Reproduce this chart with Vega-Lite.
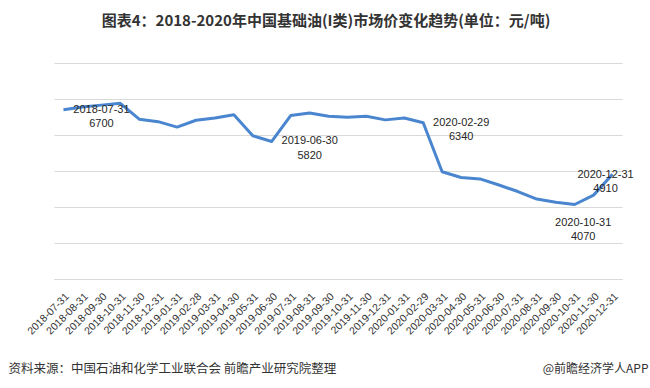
{
  "$schema": "https://vega.github.io/schema/vega-lite/v6.json",
  "width": 568,
  "height": 216,
  "autosize": {"type": "none"},
  "padding": {"left": 54, "top": 63, "right": 28, "bottom": 109},
  "background": "#ffffff",
  "title": {
    "text": "图表4：2018-2020年中国基础油(I类)市场价变化趋势(单位：元/吨)",
    "font": "Noto Sans CJK SC",
    "fontSize": 15,
    "fontWeight": "bold",
    "color": "#333333",
    "anchor": "middle",
    "dx": -12,
    "offset": 34
  },
  "config": {
    "view": {"stroke": null},
    "font": "Liberation Sans"
  },
  "data": {
    "values": [
      {"date": "2018-07-31", "price": 6700},
      {"date": "2018-08-31", "price": 6780},
      {"date": "2018-09-30", "price": 6830},
      {"date": "2018-10-31", "price": 6880},
      {"date": "2018-11-30", "price": 6440},
      {"date": "2018-12-31", "price": 6370},
      {"date": "2019-01-31", "price": 6220},
      {"date": "2019-02-28", "price": 6410},
      {"date": "2019-03-31", "price": 6470},
      {"date": "2019-04-30", "price": 6560},
      {"date": "2019-05-31", "price": 5980},
      {"date": "2019-06-30", "price": 5820},
      {"date": "2019-07-31", "price": 6540},
      {"date": "2019-08-31", "price": 6610},
      {"date": "2019-09-30", "price": 6520},
      {"date": "2019-10-31", "price": 6490},
      {"date": "2019-11-30", "price": 6520},
      {"date": "2019-12-31", "price": 6420},
      {"date": "2020-01-31", "price": 6470},
      {"date": "2020-02-29", "price": 6340},
      {"date": "2020-03-31", "price": 4980},
      {"date": "2020-04-30", "price": 4820},
      {"date": "2020-05-31", "price": 4780},
      {"date": "2020-06-30", "price": 4610},
      {"date": "2020-07-31", "price": 4430},
      {"date": "2020-08-31", "price": 4220},
      {"date": "2020-09-30", "price": 4130},
      {"date": "2020-10-31", "price": 4070},
      {"date": "2020-11-30", "price": 4330},
      {"date": "2020-12-31", "price": 4910}
    ]
  },
  "encoding": {
    "x": {
      "field": "date",
      "type": "ordinal",
      "sort": null,
      "scale": {"type": "point", "padding": 0.5},
      "axis": {
        "title": "资料来源：中国石油和化学工业联合会 前瞻产业研究院整理",
        "titleFont": "Noto Sans CJK SC",
        "titleFontSize": 12.5,
        "titleFontWeight": "normal",
        "titleColor": "#333333",
        "titleAnchor": "start",
        "titleAlign": "left",
        "titleBaseline": "middle",
        "titleX": -46,
        "titleY": 89,
        "labelAngle": -45,
        "labelFontSize": 10.5,
        "labelColor": "#333333",
        "labelPadding": 12,
        "ticks": false,
        "domain": true,
        "domainColor": "#d9d9d9",
        "grid": false
      }
    },
    "y": {
      "field": "price",
      "type": "quantitative",
      "scale": {"domain": [2000, 8000], "nice": false},
      "axis": {
        "values": [2000, 3000, 4000, 5000, 6000, 7000, 8000],
        "labels": false,
        "ticks": false,
        "domain": false,
        "grid": true,
        "gridColor": "#d9d9d9",
        "gridWidth": 1,
        "title": "@前瞻经济学人APP",
        "titleFont": "Noto Sans CJK SC",
        "titleFontSize": 12,
        "titleFontWeight": "normal",
        "titleColor": "#333333",
        "titleAngle": 0,
        "titleAlign": "right",
        "titleBaseline": "middle",
        "titleX": 594,
        "titleY": 305
      }
    }
  },
  "layer": [
    {
      "mark": {"type": "line", "color": "#4a86cf", "strokeWidth": 3, "strokeJoin": "round"}
    },
    {
      "transform": [
        {"filter": {"field": "date", "oneOf": ["2018-07-31", "2019-06-30", "2020-02-29"]}},
        {"calculate": "datum.date + '\\n' + datum.price", "as": "label"}
      ],
      "mark": {"type": "text", "font": "Liberation Sans", "fontSize": 11, "color": "#262626", "lineBreak": "\n", "lineHeight": 14.5, "dx": 38, "dy": 0, "baseline": "middle"},
      "encoding": {"text": {"field": "label"}}
    },
    {
      "transform": [
        {"filter": {"field": "date", "equal": "2020-10-31"}},
        {"calculate": "datum.date + '\\n' + datum.price", "as": "label"}
      ],
      "mark": {"type": "text", "font": "Liberation Sans", "fontSize": 11, "color": "#262626", "lineBreak": "\n", "lineHeight": 14, "dx": 8.5, "dy": 19, "baseline": "middle"},
      "encoding": {"text": {"field": "label"}}
    },
    {
      "transform": [
        {"filter": {"field": "date", "equal": "2020-12-31"}},
        {"calculate": "datum.date + '\\n' + datum.price", "as": "label"}
      ],
      "mark": {"type": "text", "font": "Liberation Sans", "fontSize": 11, "color": "#262626", "lineBreak": "\n", "lineHeight": 14, "dx": -7, "dy": 1, "baseline": "middle"},
      "encoding": {"text": {"field": "label"}}
    }
  ]
}
